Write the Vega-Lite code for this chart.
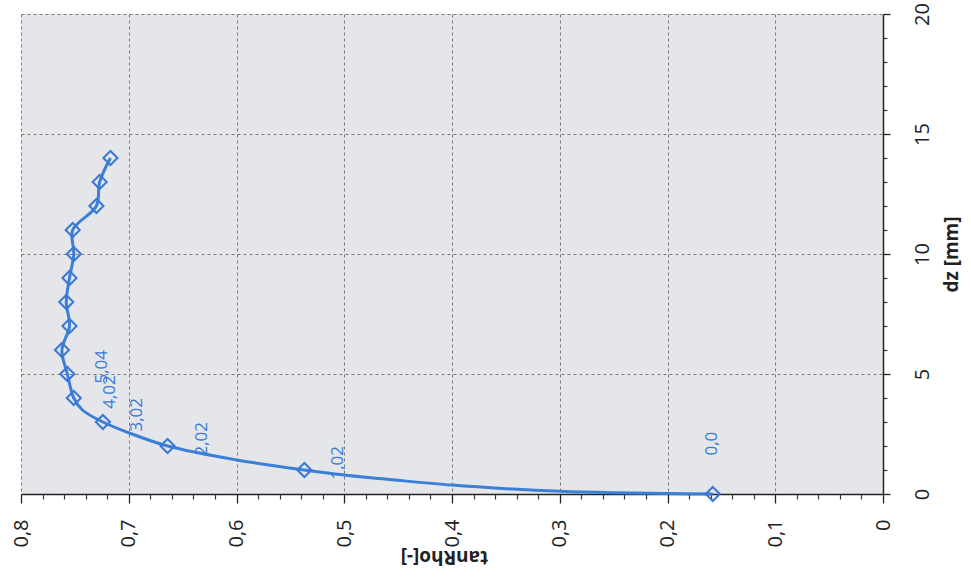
{
  "$schema": "https://vega.github.io/schema/vega-lite/v6.json",
  "width": 862,
  "height": 480,
  "autosize": {"type": "none"},
  "padding": {"left": 21, "top": 14, "right": 88, "bottom": 90},
  "background": "#ffffff",
  "config": {
    "view": {"fill": "#e4e6e9", "stroke": null},
    "font": "Open Sans"
  },
  "datasets": {
    "curve": [
      {"tanRho": 0.158, "dz": 0.0},
      {"tanRho": 0.2, "dz": 0.02},
      {"tanRho": 0.25, "dz": 0.05},
      {"tanRho": 0.3, "dz": 0.11},
      {"tanRho": 0.35, "dz": 0.22},
      {"tanRho": 0.4, "dz": 0.37},
      {"tanRho": 0.45, "dz": 0.57},
      {"tanRho": 0.5, "dz": 0.79},
      {"tanRho": 0.537, "dz": 1.0},
      {"tanRho": 0.6, "dz": 1.42},
      {"tanRho": 0.664, "dz": 2.0},
      {"tanRho": 0.7, "dz": 2.55},
      {"tanRho": 0.724, "dz": 3.0},
      {"tanRho": 0.743, "dz": 3.5},
      {"tanRho": 0.751, "dz": 4.0},
      {"tanRho": 0.757, "dz": 5.0},
      {"tanRho": 0.762, "dz": 6.0},
      {"tanRho": 0.755, "dz": 7.0},
      {"tanRho": 0.758, "dz": 8.0},
      {"tanRho": 0.755, "dz": 9.0},
      {"tanRho": 0.751, "dz": 10.0},
      {"tanRho": 0.752, "dz": 11.0},
      {"tanRho": 0.73, "dz": 12.0},
      {"tanRho": 0.727, "dz": 13.0},
      {"tanRho": 0.717, "dz": 14.0}
    ],
    "points": [
      {"tanRho": 0.158, "dz": 0.0},
      {"tanRho": 0.537, "dz": 1.0},
      {"tanRho": 0.664, "dz": 2.0},
      {"tanRho": 0.724, "dz": 3.0},
      {"tanRho": 0.751, "dz": 4.0},
      {"tanRho": 0.757, "dz": 5.0},
      {"tanRho": 0.762, "dz": 6.0},
      {"tanRho": 0.755, "dz": 7.0},
      {"tanRho": 0.758, "dz": 8.0},
      {"tanRho": 0.755, "dz": 9.0},
      {"tanRho": 0.751, "dz": 10.0},
      {"tanRho": 0.752, "dz": 11.0},
      {"tanRho": 0.73, "dz": 12.0},
      {"tanRho": 0.727, "dz": 13.0},
      {"tanRho": 0.717, "dz": 14.0}
    ],
    "labels": [
      {"tanRho": 0.159, "dz": 2.1, "text": "0,0"},
      {"tanRho": 0.506, "dz": 1.3, "text": "1,02"},
      {"tanRho": 0.632, "dz": 2.3, "text": "2,02"},
      {"tanRho": 0.692, "dz": 3.3, "text": "3,02"},
      {"tanRho": 0.717, "dz": 4.25, "text": "4,02"},
      {"tanRho": 0.725, "dz": 5.3, "text": "5,04"}
    ]
  },
  "resolve": {"axis": {"x": "independent", "y": "independent"}},
  "layer": [
    {
      "data": {"name": "curve"},
      "mark": {"type": "line", "interpolate": "catmull-rom", "color": "#3b7fd6", "strokeWidth": 3},
      "encoding": {
        "x": {
          "field": "tanRho",
          "type": "quantitative",
          "scale": {"domain": [0, 0.8], "reverse": true, "nice": false, "zero": false},
          "axis": {
            "orient": "bottom",
            "title": "tanRho[-]",
            "values": [0, 0.1, 0.2, 0.3, 0.4, 0.5, 0.6, 0.7, 0.8],
            "labelExpr": "datum.value == 0 ? '0' : replace(format(datum.value, '.1f'), '.', ',')",
            "labelAngle": 270,
            "labelAlign": "right",
            "labelBaseline": "middle",
            "labelFontSize": 20,
            "labelColor": "#222222",
            "labelPadding": 16,
            "domainColor": "#222222",
            "domainWidth": 1.5,
            "tickColor": "#222222",
            "tickSize": 9,
            "tickWidth": 1.3,
            "grid": true,
            "gridColor": "#7a7a7a",
            "gridDash": [3, 3],
            "gridWidth": 1,
            "gridOpacity": {"condition": {"test": "datum.value > 0", "value": 1}, "value": 0},
            "titleAngle": 180,
            "titleFontSize": 19,
            "titleFontWeight": "bold",
            "titleColor": "#222222",
            "titleX": 423,
            "titleY": 62,
            "titleAlign": "center",
            "titleBaseline": "middle"
          }
        },
        "y": {
          "field": "dz",
          "type": "quantitative",
          "scale": {"domain": [0, 20], "nice": false, "zero": false},
          "axis": {
            "orient": "right",
            "title": "dz [mm]",
            "values": [0, 5, 10, 15, 20],
            "labelAngle": 270,
            "labelAlign": "center",
            "labelBaseline": "top",
            "labelFontSize": 20,
            "labelColor": "#222222",
            "labelPadding": 22,
            "domainColor": "#222222",
            "domainWidth": 1.5,
            "tickColor": "#222222",
            "tickSize": 7,
            "tickWidth": 1.3,
            "grid": true,
            "gridColor": "#7a7a7a",
            "gridDash": [3, 3],
            "gridWidth": 1,
            "gridOpacity": {"condition": {"test": "datum.value > 0", "value": 1}, "value": 0},
            "titleAngle": 270,
            "titleFontSize": 19,
            "titleFontWeight": "bold",
            "titleColor": "#222222",
            "titleX": 68,
            "titleY": 240,
            "titleAlign": "center",
            "titleBaseline": "middle"
          }
        },
        "order": {"field": "dz", "type": "quantitative"}
      }
    },
    {
      "data": {"name": "points"},
      "mark": {"type": "point", "shape": "diamond", "filled": false, "size": 200, "stroke": "#3a78d6", "strokeWidth": 2, "opacity": 1},
      "encoding": {
        "x": {
          "field": "tanRho",
          "type": "quantitative",
          "axis": {
            "orient": "bottom",
            "title": null,
            "values": [0.02, 0.04, 0.06, 0.08, 0.12, 0.14, 0.16, 0.18, 0.22, 0.24, 0.26, 0.28, 0.32, 0.34, 0.36, 0.38, 0.42, 0.44, 0.46, 0.48, 0.52, 0.54, 0.56, 0.58, 0.62, 0.64, 0.66, 0.68, 0.72, 0.74, 0.76, 0.78],
            "labels": false,
            "domain": false,
            "grid": false,
            "tickColor": "#333333",
            "tickSize": 5,
            "tickWidth": 1.2
          }
        },
        "y": {
          "field": "dz",
          "type": "quantitative",
          "axis": {
            "orient": "right",
            "title": null,
            "values": [1, 2, 3, 4, 6, 7, 8, 9, 11, 12, 13, 14, 16, 17, 18, 19],
            "labels": false,
            "domain": false,
            "grid": false,
            "tickColor": "#333333",
            "tickSize": 4,
            "tickWidth": 1.2
          }
        }
      }
    },
    {
      "data": {"name": "labels"},
      "mark": {"type": "text", "angle": 270, "align": "center", "baseline": "middle", "fontSize": 17, "color": "#3a7ad6", "font": "Open Sans"},
      "encoding": {
        "x": {"field": "tanRho", "type": "quantitative", "axis": null},
        "y": {"field": "dz", "type": "quantitative", "axis": null},
        "text": {"field": "text", "type": "nominal"}
      }
    }
  ]
}
